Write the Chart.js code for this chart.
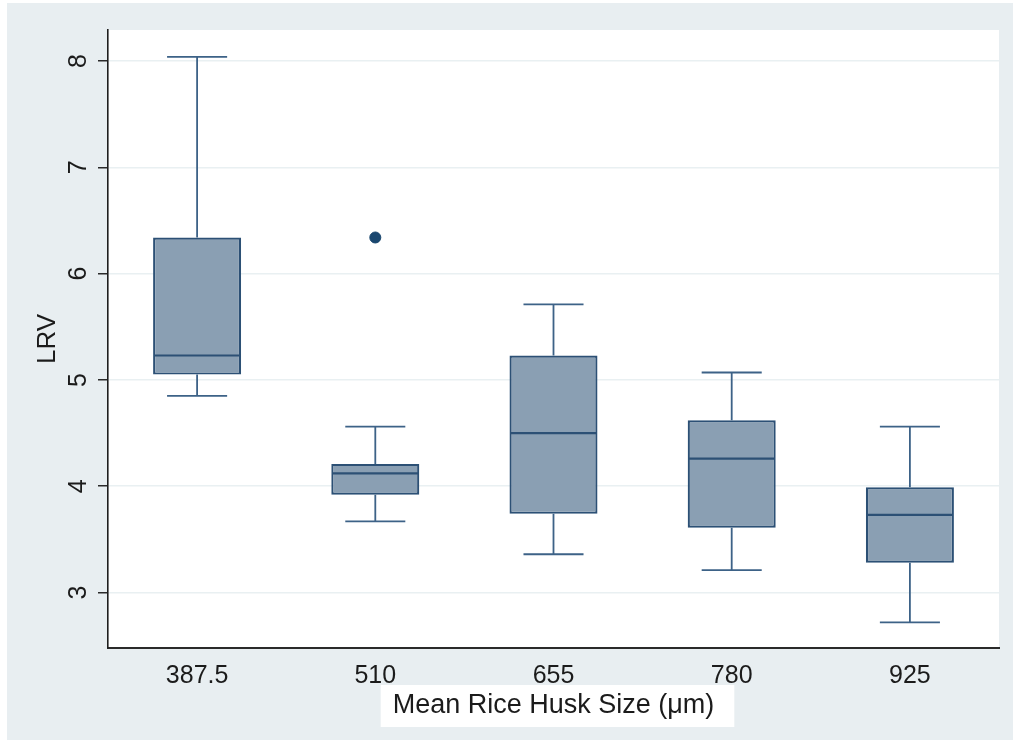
<!DOCTYPE html>
<html>
<head>
<meta charset="utf-8">
<script src="https://cdn.jsdelivr.net/npm/chart.js@4.4.1/dist/chart.umd.min.js"></script>
<style>
  html, body { margin: 0; padding: 0; background: #ffffff; }
  #wrap { width: 1013px; height: 740px; position: relative; }
</style>
</head>
<body>
<div id="wrap"><canvas id="c" width="1013" height="740"></canvas></div>
<script>
// ---- data ----
const categories = ['387.5', '510', '655', '780', '925'];
const lowerWhisker = [4.85, 3.67, 3.36, 3.21, 2.72];
const q1Values = [5.05, 3.92, 3.74, 3.61, 3.28];
const medianValues = [5.23, 4.12, 4.50, 4.26, 3.73];
const q3Values = [6.34, 4.21, 5.23, 4.62, 3.99];
const upperWhisker = [8.04, 4.56, 5.71, 5.07, 4.56];
const outlierValues = [null, 6.34, null, null, null];
const yTickValues = [3, 4, 5, 6, 7, 8];
const yTickLabels = ['3', '4', '5', '6', '7', '8'];
const xTitle = 'Mean Rice Husk Size (μm)';
const yTitle = 'LRV';

const FONT = '"Liberation Sans", Arial, sans-serif';
const BOX_FILL = '#8a9fb3';
const BOX_LINE = '#2c5075';
const WHISKER = '#3d6287';
const OUTER_BG = '#e8eef1';

const boxData = categories.map((c, i) => [q1Values[i], q3Values[i]]);

const backgroundPlugin = {
  id: 'stataBackground',
  beforeDraw(chart) {
    const ctx = chart.ctx;
    const a = chart.chartArea;
    ctx.save();
    ctx.fillStyle = OUTER_BG;
    ctx.fillRect(7, 3, chart.width - 7, chart.height - 3);
    ctx.fillStyle = '#ffffff';
    ctx.fillRect(a.left, a.top, a.right - a.left, a.bottom - a.top);
    // white patch behind the x-axis title
    const xs = chart.scales.x;
    ctx.font = '27px ' + FONT;
    const w = ctx.measureText(xTitle).width;
    const cx = (a.left + a.right) / 2 + 4;
    ctx.fillRect(cx - w / 2 - 16, xs.bottom - 55, w + 32, 42);
    ctx.restore();
  }
};

const boxPlugin = {
  id: 'boxWhiskers',
  afterDatasetsDraw(chart) {
    const ctx = chart.ctx;
    const xs = chart.scales.x;
    const ys = chart.scales.y;
    const catW = xs.width / categories.length;
    const boxW = catW * 0.494;
    const capW = catW * 0.337;
    ctx.save();
    categories.forEach((c, i) => {
      const x = xs.getPixelForValue(i);
      const yLo = ys.getPixelForValue(lowerWhisker[i]);
      const yQ1 = ys.getPixelForValue(q1Values[i]);
      const yMed = ys.getPixelForValue(medianValues[i]);
      const yQ3 = ys.getPixelForValue(q3Values[i]);
      const yHi = ys.getPixelForValue(upperWhisker[i]);
      ctx.strokeStyle = WHISKER;
      ctx.lineWidth = 1.8;
      ctx.beginPath();
      ctx.moveTo(x, yQ3); ctx.lineTo(x, yHi);
      ctx.moveTo(x, yQ1); ctx.lineTo(x, yLo);
      ctx.moveTo(x - capW / 2, yHi); ctx.lineTo(x + capW / 2, yHi);
      ctx.moveTo(x - capW / 2, yLo); ctx.lineTo(x + capW / 2, yLo);
      ctx.stroke();
      ctx.strokeStyle = BOX_LINE;
      ctx.lineWidth = 2.2;
      ctx.beginPath();
      ctx.moveTo(x - boxW / 2 + 1, yMed); ctx.lineTo(x + boxW / 2 - 1, yMed);
      ctx.stroke();
    });
    ctx.restore();
  },
  afterDraw(chart) {
    const ctx = chart.ctx;
    const ys = chart.scales.y;
    ctx.save();
    ctx.fillStyle = '#1b1b1b';
    ctx.font = '25px ' + FONT;
    ctx.textAlign = 'center';
    ctx.textBaseline = 'alphabetic';
    yTickValues.forEach((v, i) => {
      const py = ys.getPixelForValue(v);
      ctx.save();
      ctx.translate(ys.right - 10 - 12, py);
      ctx.rotate(-Math.PI / 2);
      ctx.fillText(yTickLabels[i], 0, 0);
      ctx.restore();
    });
    ctx.restore();
  }
};

new Chart(document.getElementById('c'), {
  type: 'bar',
  data: {
    labels: categories,
    datasets: [
      {
        type: 'line',
        label: 'outliers',
        data: outlierValues,
        showLine: false,
        pointRadius: 5.5,
        pointBorderWidth: 1,
        pointBackgroundColor: '#1a476f',
        pointBorderColor: '#1a476f',
        order: 0
      },
      {
        type: 'bar',
        label: 'LRV',
        data: boxData,
        backgroundColor: BOX_FILL,
        borderColor: BOX_LINE,
        borderWidth: 2.2,
        borderSkipped: false,
        barPercentage: 0.494,
        categoryPercentage: 1.0,
        order: 1
      }
    ]
  },
  options: {
    responsive: false,
    animation: false,
    layout: { padding: { left: 0, top: 30, right: 14, bottom: 0 } },
    plugins: {
      legend: { display: false },
      tooltip: { enabled: false },
      title: { display: false }
    },
    scales: {
      x: {
        type: 'category',
        offset: true,
        grid: { display: false, drawTicks: false },
        border: { display: true, color: '#2a2a2a', width: 2 },
        ticks: {
          color: '#1b1b1b',
          font: { family: FONT, size: 25 },
          padding: 13,
          maxRotation: 0,
          minRotation: 0
        },
        title: {
          display: true,
          text: xTitle,
          color: '#1b1b1b',
          font: { family: FONT, size: 27 },
          padding: { top: 0, bottom: 18 }
        },
        afterFit(scale) { scale.height = 92; }
      },
      y: {
        type: 'linear',
        min: 2.478,
        max: 8.292,
        afterBuildTicks(scale) {
          scale.ticks = yTickValues.map(v => ({ value: v }));
        },
        grid: {
          color: '#e9f0f2',
          lineWidth: 1.5,
          drawTicks: true,
          tickLength: 10,
          tickColor: '#2a2a2a',
          tickWidth: 1.5
        },
        border: { display: true, color: '#1e1e1e', width: 1.6 },
        ticks: { display: false },
        title: {
          display: true,
          text: yTitle,
          color: '#1b1b1b',
          font: { family: FONT, size: 26 },
          padding: { top: 32, bottom: 0 }
        },
        afterFit(scale) { scale.width = 108; }
      }
    }
  },
  plugins: [backgroundPlugin, boxPlugin]
});
</script>
</body>
</html>
